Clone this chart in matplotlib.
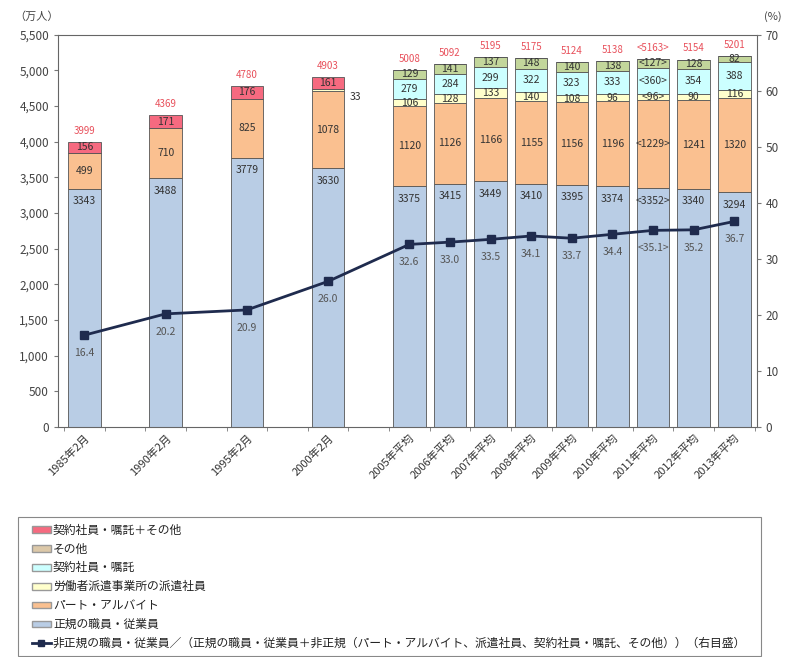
import numpy as np
import matplotlib
matplotlib.use("Agg")
import matplotlib.pyplot as plt
from matplotlib.patches import Patch, Rectangle
from matplotlib.lines import Line2D
from matplotlib.ticker import FuncFormatter, MultipleLocator

plt.rcParams['font.family'] = ['Noto Sans CJK JP', 'DejaVu Sans']

categories = ['1985年2月', '1990年2月', '1995年2月', '2000年2月', '2005年平均', '2006年平均',
              '2007年平均', '2008年平均', '2009年平均', '2010年平均', '2011年平均',
              '2012年平均', '2013年平均']
regular = [3343, 3488, 3779, 3630, 3375, 3415, 3449, 3410, 3395, 3374, 3352, 3340, 3294]
part_time = [499, 710, 825, 1078, 1120, 1126, 1166, 1155, 1156, 1196, 1229, 1241, 1320]
dispatch = [0, 0, 0, 33, 106, 128, 133, 140, 108, 96, 96, 90, 116]
contract = [0, 0, 0, 0, 279, 284, 299, 322, 323, 333, 360, 354, 388]
other = [0, 0, 0, 0, 129, 141, 137, 148, 140, 138, 127, 128, 82]
contract_other = [156, 171, 176, 161, 0, 0, 0, 0, 0, 0, 0, 0, 0]
totals = [3999, 4369, 4780, 4903, 5008, 5092, 5195, 5175, 5124, 5138, 5163, 5154, 5201]
ratio = [16.4, 20.2, 20.9, 26.0, 32.6, 33.0, 33.5, 34.1, 33.7, 34.4, 35.1, 35.2, 36.7]
bracketed = [False] * 10 + [True, False, False]

labels_legend = ['契約社員・嘱託＋その他', 'その他', '契約社員・嘱託', '労働者派遣事業所の派遣社員',
                 'パート・アルバイト', '正規の職員・従業員',
                 '非正規の職員・従業員／（正規の職員・従業員＋非正規（パート・アルバイト、派遣社員、契約社員・嘱託、その他））（右目盛）']

C_REG = '#b9cde5'
C_PART = '#fac090'
C_DISP = '#ffffcc'
C_CONT = '#ccffff'
C_OTH = '#c3d69b'
C_CO = '#f66a80'
C_LINE = '#1f2b4e'
TXT = '#333333'
RED = '#e8505b'

# first four surveys every 5 years -> double spacing
x = np.array([2 * i if i < 4 else 8 + (i - 4) for i in range(len(categories))], dtype=float)

fig = plt.figure(figsize=(7.94, 6.57), dpi=100)
ax = fig.add_axes([0.073, 0.350, 0.880, 0.597])
w = 0.8


def fmt(v, i):
    s = str(v)
    return f'<{s}>' if bracketed[i] else s


bottom = np.zeros(len(x))
series = [(regular, C_REG), (part_time, C_PART), (dispatch, C_DISP),
          (contract, C_CONT), (other, C_OTH), (contract_other, C_CO)]
for vals, col in series:
    vals = np.array(vals, dtype=float)
    ax.bar(x, vals, w, bottom=bottom, color=col, edgecolor='#555555', linewidth=0.6, zorder=2)
    for i, v in enumerate(vals):
        if v <= 0:
            continue
        if col == C_REG:
            ax.annotate(fmt(int(v), i), (x[i], bottom[i] + v), xytext=(0, -9),
                        textcoords='offset points', ha='center', va='center',
                        fontsize=7.5, color=TXT, zorder=5)
        elif col == C_DISP and i == 3:
            ax.annotate(str(int(v)), (x[i] + w / 2, bottom[i] + v / 2), xytext=(4, -5),
                        textcoords='offset points', ha='left', va='center',
                        fontsize=7.5, color=TXT, zorder=5)
        else:
            ax.text(x[i], bottom[i] + v / 2, fmt(int(v), i), ha='center', va='center',
                    fontsize=7.5, color=TXT, zorder=5)
    bottom += vals

for i, t in enumerate(totals):
    ax.annotate(fmt(t, i), (x[i], bottom[i]), xytext=(0, 8), textcoords='offset points',
                ha='center', va='center', fontsize=7, color=RED)

ax.set_xlim(x[0] - 0.65, x[-1] + 0.55)
ax.set_ylim(0, 5500)
ax.yaxis.set_major_locator(MultipleLocator(500))
ax.yaxis.set_major_formatter(FuncFormatter(lambda v, p: f'{int(v):,}'))
ax.set_xticks(x)
ax.set_xticklabels(categories, rotation=45, ha='right', rotation_mode='anchor',
                   fontsize=8, color=TXT)
ax.set_xticks(np.arange(x[0] - 0.5, x[-1] + 1, 1.0), minor=True)
ax.tick_params(axis='x', which='major', length=0, pad=4)
ax.tick_params(axis='x', which='minor', length=3, color='#777777')
ax.tick_params(axis='y', labelsize=8.5, labelcolor='#444444', length=3, color='#777777')
for s in ax.spines.values():
    s.set_color('#666666')
    s.set_linewidth(0.8)

ax2 = ax.twinx()
ax2.plot(x, ratio, color=C_LINE, lw=2, marker='s', markersize=6, zorder=6)
for i, r in enumerate(ratio):
    ax2.annotate(fmt(f'{r:.1f}', i), (x[i], r), xytext=(0, -13), textcoords='offset points',
                 ha='center', va='center', fontsize=7.5, color='#555555')
ax2.set_ylim(0, 70)
ax2.yaxis.set_major_locator(MultipleLocator(10))
ax2.tick_params(axis='y', labelsize=8.5, labelcolor='#444444', length=3, color='#777777')
for s in ax2.spines.values():
    s.set_visible(False)

fig.text(0.018, 0.975, '（万人）', fontsize=8, color='#444444', ha='left', va='center')
fig.text(0.985, 0.975, '(%)', fontsize=8, color='#444444', ha='right', va='center')

# legend frame drawn separately so the entries can sit indented inside it
fig.patches.append(Rectangle((0.023, 0.002), 0.935, 0.211, transform=fig.transFigure,
                             facecolor='white', edgecolor='#888888', linewidth=0.8))

handles = [Patch(facecolor=C_CO, edgecolor='#999999'),
           Patch(facecolor='#dcc8a8', edgecolor='#999999'),
           Patch(facecolor=C_CONT, edgecolor='#999999'),
           Patch(facecolor=C_DISP, edgecolor='#999999'),
           Patch(facecolor=C_PART, edgecolor='#999999'),
           Patch(facecolor=C_REG, edgecolor='#999999'),
           Line2D([0], [0], color=C_LINE, lw=2, marker='s', markersize=4)]
leg = fig.legend(handles, labels_legend, loc='upper left',
                 bbox_to_anchor=(0.040, 0.203), fontsize=8.5, frameon=False,
                 handlelength=1.6, handleheight=0.5, labelspacing=0.5,
                 handletextpad=0.2, borderpad=0.0, borderaxespad=0)
for t in leg.get_texts():
    t.set_color('#222222')

fig.savefig('out.png', dpi=100)
